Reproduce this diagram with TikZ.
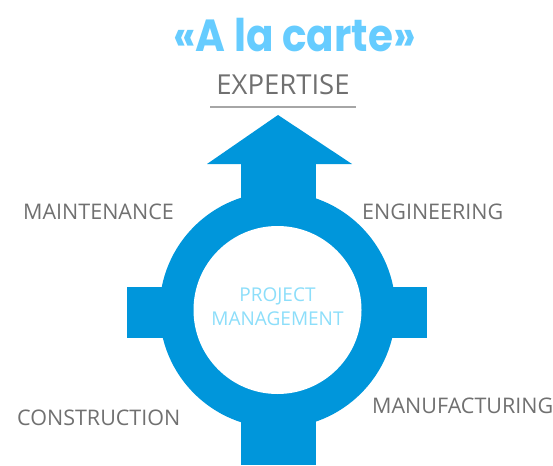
\documentclass[tikz,border=0pt]{standalone}
\usepackage{fontspec}
\setmainfont{Open Sans}
\newfontfamily\titlefont{Poppins}
\definecolor{ringblue}{RGB}{0,150,219}
\definecolor{titleblue}{RGB}{102,204,255}
\definecolor{labelgray}{RGB}{112,112,112}
\definecolor{pmblue}{RGB}{140,222,250}
\definecolor{rulegray}{RGB}{166,166,166}
\begin{document}
\begin{tikzpicture}[x=1pt,y=-1pt,
  area/.style={labelgray,font=\fontsize{21.5}{24}\selectfont,inner sep=0pt},
  hub/.style={fill=ringblue,draw=none}]
\useasboundingbox (0,0) rectangle (553,465);
% ring with arrow and stubs
\fill [hub] (277.5,310) circle (118);
\fill [hub] (240.5,164) rectangle (315.5,220);
\fill [hub] (207,164) -- (278,115) -- (352,164) -- cycle;
\fill [hub] (127,287) rectangle (200,338);
\fill [hub] (355,287) rectangle (427,338);
\fill [hub] (240.5,400) rectangle (315.5,465);
\fill [white] (277.5,310) circle (84);
% texts
\node (title) at (294.5,52) [anchor=base,titleblue,inner sep=0pt,xscale=0.9,font=\titlefont\bfseries\fontsize{45}{48}\selectfont] {«A la carte»};
\node (expertise) at (283,95) [anchor=base,labelgray,inner sep=0pt,font=\fontsize{27.5}{30}\selectfont] {EXPERTISE};
\draw [rulegray,line width=2] (210,107) -- (356,107);
\node (pm) at (277.5,307) [pmblue,align=center,inner sep=0pt,font=\fontsize{19}{24}\selectfont] {PROJECT\\MANAGEMENT};
\node (maintenance) at (23,219) [area,anchor=base west] {MAINTENANCE};
\node (engineering) at (362,219) [area,anchor=base west] {ENGINEERING};
\node (construction) at (17,425) [area,anchor=base west] {CONSTRUCTION};
\node (manufacturing) at (372,413) [area,anchor=base west] {MANUFACTURING};
\end{tikzpicture}
\end{document}
